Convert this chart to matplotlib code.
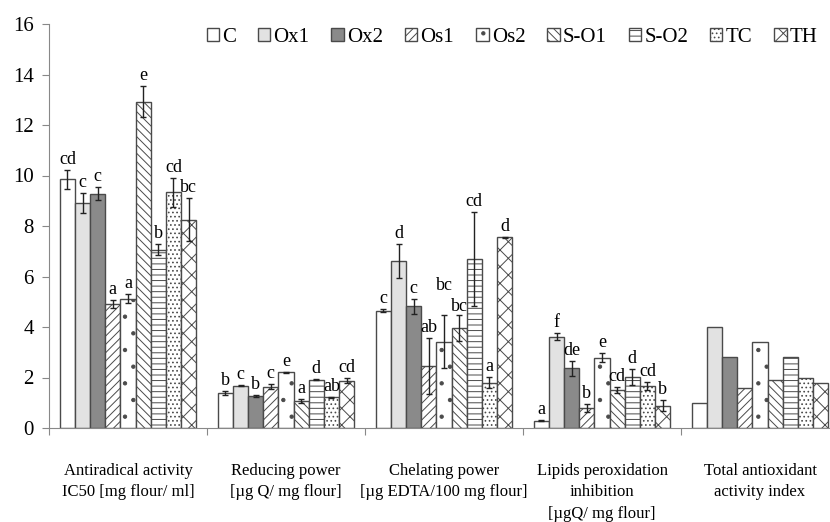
import matplotlib.pyplot as plt
import numpy as np

plt.rcParams['font.family'] = ['Liberation Serif', 'DejaVu Serif']
plt.rcParams['hatch.linewidth'] = 0.7

categories = ['Antiradical activity\nIC50 [mg flour/ ml]',
              'Reducing power\n[µg Q/ mg flour]',
              'Chelating power\n[µg EDTA/100 mg flour]',
              'Lipids peroxidation\ninhibition\n[µgQ/ mg flour]',
              'Total antioxidant\nactivity index']
series = ['C', 'Ox1', 'Ox2', 'Os1', 'Os2', 'S-O1', 'S-O2', 'TC', 'TH']

# values per series, one number per category
values = {
    'C':    [9.85, 1.38, 4.65, 0.29, 1.0],
    'Ox1':  [8.92, 1.68, 6.62, 3.62, 4.0],
    'Ox2':  [9.27, 1.27, 4.82, 2.36, 2.8],
    'Os1':  [4.90, 1.64, 2.45, 0.80, 1.6],
    'Os2':  [5.12, 2.21, 3.42, 2.79, 3.4],
    'S-O1': [12.93, 1.08, 3.97, 1.52, 1.9],
    'S-O2': [7.06, 1.92, 6.70, 2.03, 2.8],
    'TC':   [9.33, 1.22, 1.80, 1.68, 2.0],
    'TH':   [8.24, 1.87, 7.55, 0.89, 1.8],
}
errors = {
    'C':    [0.38, 0.07, 0.07, 0.03, 0],
    'Ox1':  [0.40, 0.02, 0.66, 0.13, 0],
    'Ox2':  [0.26, 0.03, 0.30, 0.31, 0],
    'Os1':  [0.16, 0.10, 1.10, 0.16, 0],
    'Os2':  [0.18, 0.02, 1.05, 0.19, 0],
    'S-O1': [0.60, 0.08, 0.52, 0.12, 0],
    'S-O2': [0.22, 0.03, 1.87, 0.32, 0],
    'TC':   [0.56, 0.02, 0.21, 0.16, 0],
    'TH':   [0.85, 0.10, 0.02, 0.22, 0],
}
letters = {
    'C':    ['cd', 'b', 'c', 'a', ''],
    'Ox1':  ['c', 'c', 'd', 'f', ''],
    'Ox2':  ['c', 'b', 'c', 'de', ''],
    'Os1':  ['a', 'c', 'ab', 'b', ''],
    'Os2':  ['a', 'e', 'bc', 'e', ''],
    'S-O1': ['e', 'a', 'bc', 'cd', ''],
    'S-O2': ['b', 'd', 'cd', 'd', ''],
    'TC':   ['cd', 'ab', 'a', 'cd', ''],
    'TH':   ['bc', 'cd', 'd', 'b', ''],
}
# the two "bc" labels over chelating power sit at different heights
nudge = {('Os2', 2): 0.75, ('S-O1', 2): -0.1}

fills = ['white', '#e2e2e2', '#8a8a8a', 'white', 'white', 'white', 'white', 'white', 'white']
hatches = [None, None, None, '////', '.', '\\\\\\\\', '---', '....', 'xx']
edge = '#4a4a4a'

fig = plt.figure(figsize=(8.3, 5.22), dpi=100)
ax = fig.add_axes([49/830, 94/522, 790/830, 404/522])

n = len(series)
w = 0.862 / n
x = np.arange(len(categories)) + 0.5
for i, s in enumerate(series):
    pos = x + (i - (n - 1) / 2) * w
    ax.bar(pos, values[s], w, color=fills[i], edgecolor=edge, linewidth=1,
           hatch=hatches[i], label=s, zorder=2)
    err = np.array(errors[s])
    m = err > 0
    ax.errorbar(pos[m], np.array(values[s])[m], yerr=err[m], fmt='none',
                ecolor='#222222', elinewidth=1, capsize=2.5, capthick=1, zorder=3)
    for j, (p, v, e, t) in enumerate(zip(pos, values[s], err, letters[s])):
        if t:
            ax.text(p, v + e + 0.08 + nudge.get((s, j), 0), t,
                    ha='center', va='bottom', fontsize=13)

ax.set_xlim(0, 5)
ax.set_ylim(0, 16)
ax.set_yticks(range(0, 17, 2))
ax.tick_params(axis='y', labelsize=15, length=5, color='#888888', pad=6)
ax.set_xticks(range(0, 6))
ax.set_xticklabels([])
ax.set_xticks(x, minor=True)
ax.set_xticklabels(categories, minor=True, fontsize=12, linespacing=1.45)
ax.tick_params(axis='x', which='major', length=5, color='#888888', direction='out')
ax.tick_params(axis='x', which='minor', length=0, pad=25)
for sp in ['top', 'right']:
    ax.spines[sp].set_visible(False)
for sp in ['left', 'bottom']:
    ax.spines[sp].set_color('#888888')

ax.legend(loc='center', bbox_to_anchor=(0.617, 1 - 37/522), bbox_transform=fig.transFigure,
          ncol=9, frameon=False, fontsize=15, handlelength=0.6, handleheight=0.6,
          handletextpad=0.15, columnspacing=1.05, borderpad=0)

fig.savefig('out.png', dpi=100)
